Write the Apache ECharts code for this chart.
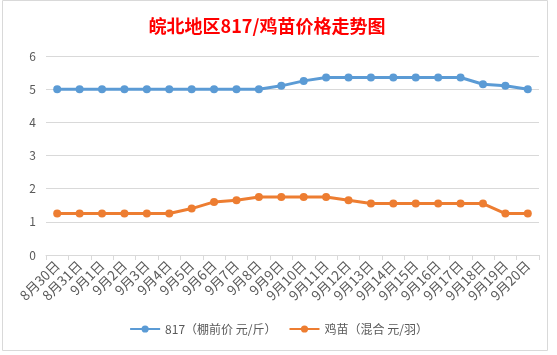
<!DOCTYPE html>
<html><head><meta charset="utf-8">
<script src="https://cdn.jsdelivr.net/npm/echarts@6/dist/echarts.min.js"></script>
<style>html,body{margin:0;padding:0;background:#fff;}#c{width:557px;height:355px;}</style>
</head><body><div id="c"></div>
<script>
const title = '皖北地区817/鸡苗价格走势图';
const categories = ['8月30日','8月31日','9月1日','9月2日','9月3日','9月4日','9月5日','9月6日','9月7日','9月8日','9月9日','9月10日','9月11日','9月12日','9月13日','9月14日','9月15日','9月16日','9月17日','9月18日','9月19日','9月20日'];
const seriesNames = ['817（棚前价 元/斤）','鸡苗（混合 元/羽）'];
const price817 = [5,5,5,5,5,5,5,5,5,5,5.1,5.25,5.35,5.35,5.35,5.35,5.35,5.35,5.35,5.15,5.1,5];
const chickPrice = [1.25,1.25,1.25,1.25,1.25,1.25,1.4,1.6,1.65,1.75,1.75,1.75,1.75,1.65,1.55,1.55,1.55,1.55,1.55,1.55,1.25,1.25];
const yTicks = [0,1,2,3,4,5,6];

const font = '"Noto Sans CJK SC", "Noto Sans", sans-serif';
const chart = echarts.init(document.getElementById('c'));
chart.setOption({
  animation: false,
  textStyle: {fontFamily: font},
  graphic: [{type:'rect', shape:{x:2.5, y:0.5, width:545, height:350}, style:{fill:'none', stroke:'#d9d9d9', lineWidth:1}, silent:true}],
  title: {text: title, left: 262, textAlign: 'center', top: 12,
    textStyle: {color:'#ff0000', fontSize:18, fontWeight:'bold', fontFamily: font}},
  grid: {left: 46, right: 18, top: 56, bottom: 100, containLabel: false},
  legend: {bottom: 15, left: 'center', itemWidth: 30, itemHeight: 9, itemGap: 12,
    textStyle: {color:'#595959', fontSize: 12, fontFamily: font},
    data: seriesNames},
  xAxis: {type:'category', data: categories, boundaryGap: true,
    axisLine: {lineStyle:{color:'#d9d9d9'}},
    axisTick: {show:true, length:5, lineStyle:{color:'#d9d9d9'}},
    axisLabel: {rotate:45, color:'#595959', fontSize:13.5, margin:8, interval:0, fontFamily: font}},
  yAxis: {type:'value', min: yTicks[0], max: yTicks[yTicks.length-1], interval: 1,
    axisLine: {show:false}, axisTick: {show:false},
    axisLabel: {color:'#595959', fontSize:12, margin:10, fontFamily: font},
    splitLine: {lineStyle:{color:'#d9d9d9'}}},
  series: [
    {name: seriesNames[0], type:'line', data: price817, symbol:'circle', symbolSize:8,
     lineStyle:{width:3, color:'#5b9bd5'}, itemStyle:{color:'#5b9bd5'}},
    {name: seriesNames[1], type:'line', data: chickPrice, symbol:'circle', symbolSize:8,
     lineStyle:{width:3, color:'#ed7d31'}, itemStyle:{color:'#ed7d31'}}
  ]
});
</script></body></html>
